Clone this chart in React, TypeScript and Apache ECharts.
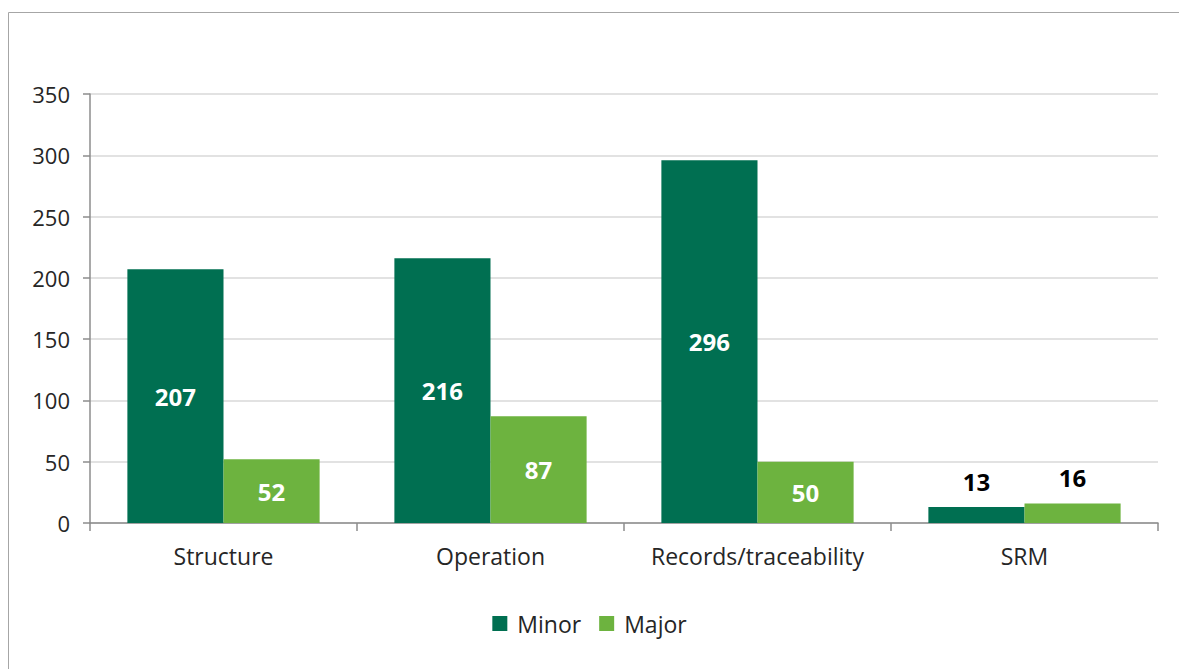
import React, { useEffect, useRef } from "react";
import * as echarts from "echarts";

const categories = ["Structure", "Operation", "Records/traceability", "SRM"];
const minorValues = [207, 216, 296, 13];
const majorValues = [52, 87, 50, 16];
const seriesNames = ["Minor", "Major"];

const FONT = "'Open Sans', sans-serif";
const AXIS_COLOR = "#8C8C8C";

export default function App() {
  const ref = useRef<HTMLDivElement>(null);
  useEffect(() => {
    if (!ref.current) return;
    const chart = echarts.init(ref.current, undefined, { renderer: "svg" });
    const insideLabel = (idx: number) => idx === 3;
    const mkData = (vals: number[]) =>
      vals.map((v, i) => ({
        value: v,
        label: insideLabel(i)
          ? { position: "top", color: "#000", distance: 14 }
          : { position: "inside", color: "#fff" },
      }));
    chart.setOption({
      animation: false,
      textStyle: { fontFamily: FONT },
      graphic: [
        { type: "line", shape: { x1: 8.5, y1: 12.5, x2: 1179, y2: 12.5 }, style: { stroke: "#A6A6A6", lineWidth: 1 } },
        { type: "line", shape: { x1: 8.5, y1: 12.5, x2: 8.5, y2: 669 }, style: { stroke: "#A6A6A6", lineWidth: 1 } },
      ],
      grid: { left: 90, right: 21, top: 94, bottom: 146 },
      legend: {
        data: seriesNames,
        bottom: 29,
        left: "center",
        itemWidth: 15,
        itemHeight: 15,
        itemGap: 18,
        icon: "rect",
        textStyle: { fontFamily: FONT, fontSize: 23, color: "#262626", padding: [0, 0, 0, 5] },
      },
      xAxis: {
        type: "category",
        data: categories,
        axisLine: { show: true, lineStyle: { color: AXIS_COLOR, width: 1.5 } },
        axisTick: { show: true, interval: 0, length: 8, lineStyle: { color: AXIS_COLOR, width: 1.5 } },
        axisLabel: { interval: 0, fontFamily: FONT, fontSize: 23, color: "#262626", margin: 21 },
      },
      yAxis: {
        type: "value",
        min: 0,
        max: 350,
        interval: 50,
        axisLine: { show: true, lineStyle: { color: AXIS_COLOR, width: 1.5 } },
        axisTick: { show: true, length: 7, lineStyle: { color: AXIS_COLOR, width: 1.5 } },
        axisLabel: { fontFamily: FONT, fontSize: 22, color: "#262626", margin: 20 },
        splitLine: { show: true, lineStyle: { color: "#D9D9D9", width: 1.5 } },
      },
      series: [
        {
          name: seriesNames[0],
          type: "bar",
          data: mkData(minorValues),
          itemStyle: { color: "#006F51" },
          barGap: "0%",
          barCategoryGap: "28%",
          label: { show: true, fontFamily: FONT, fontSize: 24, fontWeight: "bold" },
        },
        {
          name: seriesNames[1],
          type: "bar",
          data: mkData(majorValues),
          itemStyle: { color: "#6DB33F" },
          barGap: "0%",
          barCategoryGap: "28%",
          label: { show: true, fontFamily: FONT, fontSize: 24, fontWeight: "bold" },
        },
      ],
    });
    return () => chart.dispose();
  }, []);
  return (
    <div
      ref={ref}
      style={{ position: "fixed", left: 0, top: 0, width: 1179, height: 669, background: "#fff" }}
    />
  );
}
